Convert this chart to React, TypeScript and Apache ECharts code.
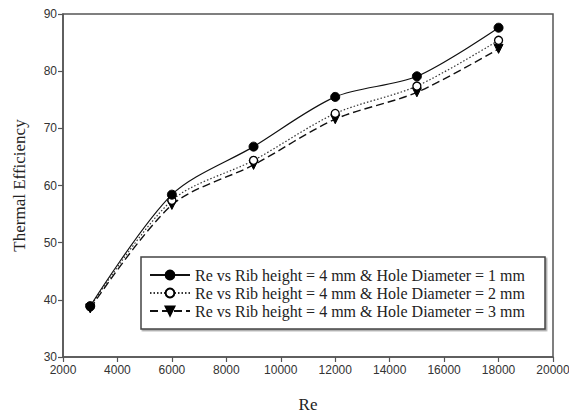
import React, { useEffect, useRef } from "react";
import * as echarts from "echarts";

const reValues = [3000, 6000, 9000, 12000, 15000, 18000];
const hole1mm = [38.9, 58.4, 66.8, 75.5, 79.1, 87.6];
const hole2mm = [38.8, 57.4, 64.4, 72.6, 77.4, 85.4];
const hole3mm = [38.5, 56.6, 63.6, 71.6, 76.3, 83.9];
const seriesNames = [
  "Re vs Rib height = 4 mm & Hole Diameter = 1 mm",
  "Re vs Rib height = 4 mm & Hole Diameter = 2 mm",
  "Re vs Rib height = 4 mm & Hole Diameter = 3 mm",
];

export default function App() {
  const ref = useRef<HTMLDivElement>(null);
  useEffect(() => {
    if (!ref.current) return;
    const chart = echarts.init(ref.current, undefined, { renderer: "svg" });
    const pair = (ys: number[]) => reValues.map((x, i) => [x, ys[i]]);
    const axisLine = { show: true, lineStyle: { color: "#555", width: 1.5 } };
    const labelStyle = {
      color: "#333",
      fontFamily: "Liberation Sans, Arial, sans-serif",
      fontSize: 12,
      formatter: (v: number) => String(v),
    };
    const nameStyle = { color: "#222", fontFamily: "Liberation Serif, Times New Roman, serif", fontSize: 17 };
    chart.setOption({
      animation: false,
      backgroundColor: "#fff",
      grid: { left: 63, top: 14, right: 16, bottom: 57, containLabel: false, outerBoundsMode: "none" },
      legend: {
        orient: "vertical",
        left: 141,
        top: 257,
        padding: [10, 20, 10, 8],
        itemGap: 2,
        itemWidth: 40,
        itemHeight: 11,
        borderColor: "#444",
        borderWidth: 1.5,
        backgroundColor: "#fff",
        shadowColor: "rgba(0,0,0,0.35)",
        shadowOffsetX: 1.5,
        shadowOffsetY: 1.5,
        textStyle: { color: "#222", fontFamily: "Liberation Serif, Times New Roman, serif", fontSize: 16 },
        data: seriesNames,
      },
      xAxis: {
        type: "value",
        min: 2000,
        max: 20000,
        interval: 2000,
        name: "Re",
        nameLocation: "middle",
        nameGap: 39,
        nameTextStyle: nameStyle,
        axisLine: { ...axisLine, onZero: false },
        axisTick: { show: true, inside: false, length: 5, lineStyle: { color: "#555", width: 1.2 } },
        axisLabel: { ...labelStyle, margin: 7 },
        splitLine: { show: false },
      },
      yAxis: {
        type: "value",
        min: 30,
        max: 90,
        interval: 10,
        name: "Thermal Efficiency",
        nameLocation: "middle",
        nameGap: 35,
        nameTextStyle: nameStyle,
        axisLine: { ...axisLine, onZero: false },
        axisTick: { show: true, inside: false, length: 5, lineStyle: { color: "#555", width: 1.2 } },
        axisLabel: { ...labelStyle, margin: 6 },
        splitLine: { show: false },
      },
      graphic: [
        {
          type: "rect",
          shape: { x: 63, y: 14, width: 490, height: 343 },
          style: { fill: "none", stroke: "#555", lineWidth: 1.5 },
          silent: true,
          z: 0,
        },
      ],
      series: [
        {
          name: seriesNames[0],
          type: "line",
          data: pair(hole1mm),
          smooth: 0.3,
          symbol: "circle",
          symbolSize: 9,
          itemStyle: { color: "#000", borderColor: "#000", borderWidth: 1 },
          lineStyle: { color: "#111", width: 1.2, type: "solid" },
          z: 5,
        },
        {
          name: seriesNames[1],
          type: "line",
          data: pair(hole2mm),
          smooth: 0.3,
          symbol: "circle",
          symbolSize: 8,
          itemStyle: { color: "#fff", borderColor: "#000", borderWidth: 1.3 },
          lineStyle: { color: "#333", width: 1.2, type: [1.5, 2] },
          z: 4,
        },
        {
          name: seriesNames[2],
          type: "line",
          data: pair(hole3mm),
          smooth: 0.3,
          symbol: "triangle",
          symbolRotate: 180,
          symbolSize: 9,
          itemStyle: { color: "#000", borderColor: "#000", borderWidth: 1 },
          lineStyle: { color: "#111", width: 1.4, type: [8, 4] },
          z: 3,
        },
      ],
    });
    return () => chart.dispose();
  }, []);
  return (
    <div
      ref={ref}
      style={{ position: "absolute", left: 0, top: 0, width: 569, height: 414 }}
    />
  );
}
